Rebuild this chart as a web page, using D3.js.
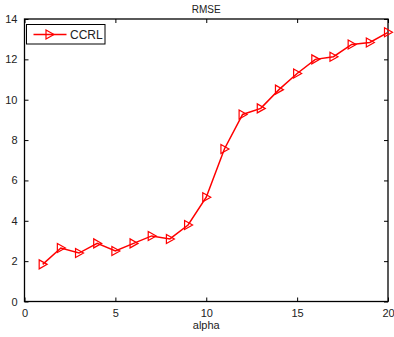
<!DOCTYPE html>
<html>
<head>
<meta charset="utf-8">
<script src="https://cdn.jsdelivr.net/npm/d3@7"></script>
<style>
  body { margin: 0; background: #fff; }
  svg text { font-family: "Liberation Sans", Arial, sans-serif; fill: #222; }
</style>
</head>
<body>
<svg id="chart" width="394" height="337"></svg>
<script>
// values
var alpha = [1, 2, 3, 4, 5, 6, 7, 8, 9, 10, 11, 12, 13, 14, 15, 16, 17, 18, 19, 20];
var rmse = [1.84, 2.65, 2.4, 2.88, 2.5, 2.88, 3.25, 3.1, 3.79, 5.17, 7.56, 9.27, 9.57, 10.5, 11.3, 12.0, 12.13, 12.74, 12.84, 13.34];
var xTicks = [0, 5, 10, 15, 20];
var yTicks = [0, 2, 4, 6, 8, 10, 12, 14];
var seriesName = 'CCRL';

var W = 394, H = 337;
var m = {left: 24.5, right: 6, top: 19, bottom: 35.5};

var svg = d3.select('#chart');

var x = d3.scaleLinear().domain([0, 20]).range([m.left, W - m.right]);
var y = d3.scaleLinear().domain([0, 14]).range([H - m.bottom, m.top]);

var tick = 4;

// axes, MATLAB style: ticks pointing inward on all four sides
svg.append('g')
    .attr('transform', 'translate(0,' + y(0) + ')')
    .call(d3.axisBottom(x).tickValues(xTicks).tickSizeInner(-tick).tickSizeOuter(0).tickPadding(8))
    .call(function (g) { g.select('.domain').remove(); });

svg.append('g')
    .attr('transform', 'translate(0,' + y(14) + ')')
    .call(d3.axisTop(x).tickValues(xTicks).tickSizeInner(-tick).tickSizeOuter(0).tickFormat(''))
    .call(function (g) { g.select('.domain').remove(); });

svg.append('g')
    .attr('transform', 'translate(' + x(0) + ',0)')
    .call(d3.axisLeft(y).tickValues(yTicks).tickSizeInner(-tick).tickSizeOuter(0).tickPadding(7))
    .call(function (g) { g.select('.domain').remove(); });

svg.append('g')
    .attr('transform', 'translate(' + x(20) + ',0)')
    .call(d3.axisRight(y).tickValues(yTicks).tickSizeInner(-tick).tickSizeOuter(0).tickFormat(''))
    .call(function (g) { g.select('.domain').remove(); });

svg.selectAll('.tick line').attr('stroke', '#000').attr('stroke-width', 1);
svg.selectAll('.tick text').style('font-size', '11px').attr('fill', '#222');

svg.append('rect')
    .attr('x', x(0))
    .attr('y', y(14))
    .attr('width', x(20) - x(0))
    .attr('height', y(0) - y(14))
    .attr('fill', 'none')
    .attr('stroke', '#000')
    .attr('stroke-width', 1.3);

// title + x label
svg.append('text')
    .attr('x', (x(0) + x(20)) / 2)
    .attr('y', 13)
    .attr('text-anchor', 'middle')
    .style('font-size', '10px')
    .text('RMSE');

svg.append('text')
    .attr('x', (x(0) + x(20)) / 2)
    .attr('y', 329)
    .attr('text-anchor', 'middle')
    .style('font-size', '11px')
    .text('alpha');

// line
var line = d3.line()
    .x(function (d, i) { return x(alpha[i]); })
    .y(function (d) { return y(d); });

svg.append('path')
    .datum(rmse)
    .attr('d', line)
    .attr('fill', 'none')
    .attr('stroke', '#ff0000')
    .attr('stroke-width', 1.5);

// right-pointing triangle markers
var tri = 'M-3.5,-4.5 L4.5,0 L-3.5,4.5 Z';

svg.selectAll('.marker')
    .data(rmse)
    .enter()
    .append('path')
    .attr('class', 'marker')
    .attr('d', tri)
    .attr('transform', function (d, i) {
        return 'translate(' + x(alpha[i]) + ',' + y(d) + ')';
    })
    .attr('fill', 'none')
    .attr('stroke', '#ff0000')
    .attr('stroke-width', 1.2);

// legend
var lg = svg.append('g').attr('transform', 'translate(26.5,24.5)');
lg.append('rect')
    .attr('width', 78.5)
    .attr('height', 19.5)
    .attr('fill', '#fff')
    .attr('stroke', '#000')
    .attr('stroke-width', 1);
lg.append('line')
    .attr('x1', 7).attr('x2', 40)
    .attr('y1', 10).attr('y2', 10)
    .attr('stroke', '#ff0000')
    .attr('stroke-width', 1.5);
lg.append('path')
    .attr('d', tri)
    .attr('transform', 'translate(23,10)')
    .attr('fill', 'none')
    .attr('stroke', '#ff0000')
    .attr('stroke-width', 1.2);
lg.append('text')
    .attr('x', 43.5)
    .attr('y', 14.5)
    .style('font-size', '12px')
    .text(seriesName);
</script>
</body>
</html>
